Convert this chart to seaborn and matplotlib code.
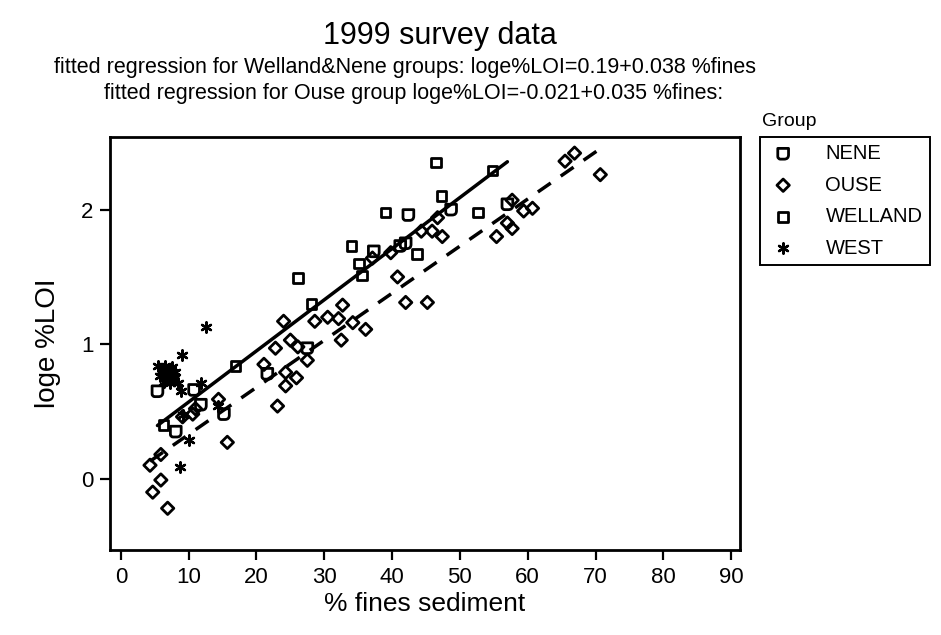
import numpy as np
import pandas as pd
import seaborn as sns
import matplotlib.pyplot as plt
from matplotlib.path import Path

# Data (% fines sediment vs loge %LOI)
nene_x = [5.4, 10.8, 11.8, 15.2, 8.1, 21.6, 27.5, 37.3, 41.2, 42.0, 42.4, 48.7, 57.0]
nene_y = [0.65, 0.66, 0.55, 0.48, 0.35, 0.78, 0.97, 1.69, 1.73, 1.75, 1.96, 2.00, 2.04]

ouse_x = [4.3, 4.7, 5.9, 5.9, 6.9, 9.1, 10.6, 11.0, 14.4, 15.7,
          21.1, 22.8, 24.0, 25.0, 26.1, 24.3, 25.9, 24.3, 23.1, 27.5,
          28.6, 30.5, 32.1, 32.7, 34.2, 32.5, 36.1, 37.1, 39.8, 40.8,
          42.0, 45.2, 44.3, 45.9, 47.4, 46.7, 55.4, 57.0, 57.7, 57.7,
          59.4, 60.7, 65.5, 66.9, 70.7]
ouse_y = [0.10, -0.10, -0.01, 0.18, -0.22, 0.46, 0.48, 0.52, 0.59, 0.27,
          0.85, 0.97, 1.17, 1.03, 0.98, 0.79, 0.75, 0.69, 0.54, 0.88,
          1.17, 1.20, 1.19, 1.29, 1.16, 1.03, 1.11, 1.64, 1.68, 1.50,
          1.31, 1.31, 1.84, 1.84, 1.80, 1.94, 1.80, 1.90, 1.86, 2.07,
          1.99, 2.01, 2.36, 2.42, 2.26]

welland_x = [6.3, 16.9, 26.1, 28.1, 34.0, 35.1, 35.6, 39.0, 43.7, 46.5, 47.3, 52.7, 54.8]
welland_y = [0.40, 0.84, 1.49, 1.30, 1.73, 1.60, 1.51, 1.98, 1.67, 2.35, 2.10, 1.98, 2.29]

west_x = [5.5, 6.5, 7.5, 6.0, 7.0, 8.0, 5.8, 6.8, 7.8, 6.3, 7.3, 8.4, 8.8,
          9.0, 12.5, 11.8, 14.3, 9.1, 10.0, 8.7]
west_y = [0.84, 0.84, 0.83, 0.80, 0.80, 0.79, 0.76, 0.76, 0.75, 0.72, 0.71, 0.71, 0.65,
          0.92, 1.13, 0.71, 0.54, 0.47, 0.29, 0.09]

# fitted regressions (from the subtitle)
wn_coef = (0.19, 0.038)
ouse_coef = (-0.021, 0.035)

x_ticks = [0, 10, 20, 30, 40, 50, 60, 70, 80, 90]
y_ticks = [0, 1, 2]

df = pd.concat([
    pd.DataFrame({'fines': nene_x, 'loi': nene_y, 'Group': 'NENE'}),
    pd.DataFrame({'fines': ouse_x, 'loi': ouse_y, 'Group': 'OUSE'}),
    pd.DataFrame({'fines': welland_x, 'loi': welland_y, 'Group': 'WELLAND'}),
    pd.DataFrame({'fines': west_x, 'loi': west_y, 'Group': 'WEST'}),
])

sns.set_theme(style='white')
plt.rcParams['font.family'] = ['Liberation Sans', 'DejaVu Sans']
plt.rcParams['text.color'] = 'black'
plt.rcParams['axes.labelcolor'] = 'black'
plt.rcParams['xtick.color'] = 'black'
plt.rcParams['ytick.color'] = 'black'

# rounded-square marker for NENE
nene_marker = Path(
    [(-1, 1), (1, 1), (1, -0.2), (1, -1), (0.2, -1), (-0.5, -1), (-1, -1), (-1, -0.5), (-1, 1)],
    [Path.MOVETO, Path.LINETO, Path.LINETO, Path.CURVE3, Path.CURVE3,
     Path.LINETO, Path.CURVE3, Path.CURVE3, Path.CLOSEPOLY])

styles = {
    'NENE': dict(marker=nene_marker, s=60, facecolor='none', edgecolor='black', linewidth=2.0),
    'OUSE': dict(marker='D', s=40, facecolor='none', edgecolor='black', linewidth=2.0),
    'WELLAND': dict(marker='s', s=48, facecolor='none', edgecolor='black', linewidth=2.0),
    'WEST': dict(marker=(6, 2, 0), s=55, color='black', linewidth=1.7),
}

fig = plt.figure(figsize=(9.41, 6.35), dpi=100)
ax = fig.add_axes([110 / 941, 85 / 635, 630 / 941, 413 / 635])

for g, kw in styles.items():
    sub = df[df['Group'] == g]
    sns.scatterplot(data=sub, x='fines', y='loi', ax=ax, label=g, **kw)

# regression lines over each data range
wn = df[df['Group'].isin(['WELLAND', 'NENE'])]
xs = np.array([wn['fines'].min(), wn['fines'].max()])
sns.lineplot(x=xs, y=wn_coef[0] + wn_coef[1] * xs, ax=ax, color='black', lw=2.5)
ou = df[df['Group'] == 'OUSE']
xs = np.array([ou['fines'].min(), ou['fines'].max()])
sns.lineplot(x=xs, y=ouse_coef[0] + ouse_coef[1] * xs, ax=ax, color='black', lw=2.5,
             linestyle=(0, (4.5, 3.5)))

ax.set_xlim(-1.6, 91.3)
ax.set_ylim(-0.53, 2.54)
ax.set_xticks(x_ticks)
ax.set_yticks(y_ticks)
ax.tick_params(bottom=True, left=True, direction='out', length=7, width=1.6,
               labelsize=16, color='black', pad=5)
for sp in ax.spines.values():
    sp.set_color('black')
    sp.set_linewidth(2.0)
ax.set_xlabel('% fines sediment', fontsize=19, labelpad=3)
ax.set_ylabel('loge %LOI', fontsize=20, labelpad=14)

fig.text(0.467, 1 - 36 / 635, '1999 survey data', ha='center', va='center', fontsize=22)
fig.text(0.43, 1 - 67 / 635, 'fitted regression for Welland&Nene groups: loge%LOI=0.19+0.038 %fines',
         ha='center', va='center', fontsize=15.5)
fig.text(0.44, 1 - 93 / 635, 'fitted regression for Ouse group loge%LOI=-0.021+0.035 %fines:',
         ha='center', va='center', fontsize=15.5)
fig.text(762 / 941, 1 - 121 / 635, 'Group', ha='left', va='center', fontsize=14)

leg = ax.legend(loc='upper left', bbox_to_anchor=(760 / 941, 1 - 137 / 635),
                bbox_transform=fig.transFigure, borderaxespad=0, frameon=True,
                fancybox=False, framealpha=1, fontsize=14.5, handletextpad=1.3,
                labelspacing=0.62, borderpad=0.35, handlelength=1.6)
leg.get_frame().set_edgecolor('black')
leg.get_frame().set_linewidth(1.4)

fig.savefig('out.png', dpi=100)
